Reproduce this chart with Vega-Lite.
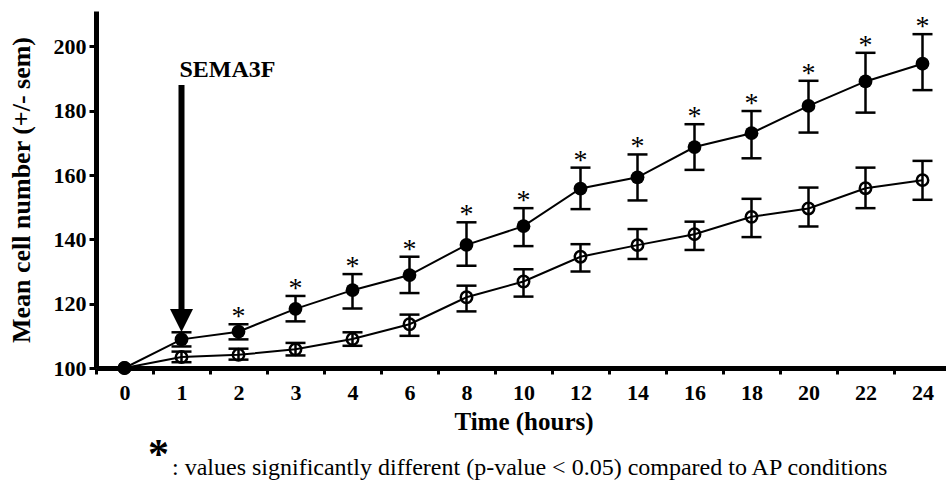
{
  "$schema": "https://vega.github.io/schema/vega-lite/v6.json",
  "autosize": "none",
  "width": 850,
  "height": 357,
  "padding": {"left": 96, "top": 11, "right": 0, "bottom": 116},
  "background": "white",
  "config": {
    "font": "Liberation Serif",
    "view": {"stroke": null},
    "axis": {
      "domainColor": "black",
      "domainWidth": 5,
      "tickColor": "black",
      "tickWidth": 3,
      "labelColor": "black",
      "titleColor": "black",
      "labelFont": "Liberation Serif",
      "titleFont": "Liberation Serif",
      "labelFontWeight": "bold",
      "titleFontWeight": "bold",
      "grid": false
    }
  },
  "title": {
    "text": "*",
    "subtitle": "\u200b\u00a0\u00a0\u00a0\u00a0: values significantly different (p-value < 0.05) compared to AP conditions",
    "orient": "bottom",
    "anchor": "start",
    "frame": "group",
    "dx": 52,
    "offset": 1,
    "font": "Liberation Serif",
    "fontSize": 42,
    "fontWeight": "bold",
    "lineHeight": 16,
    "color": "black",
    "subtitleFont": "Liberation Serif",
    "subtitleFontSize": 24,
    "subtitleFontWeight": "normal",
    "subtitleColor": "black",
    "subtitlePadding": -21
  },
  "datasets": {
    "cells": [
      {"t": 0, "g": "SEMA3F", "m": 100, "lo": 100, "hi": 100, "sig": false},
      {"t": 1, "g": "SEMA3F", "m": 108.9, "lo": 106.7, "hi": 111.1, "sig": false},
      {"t": 2, "g": "SEMA3F", "m": 111.3, "lo": 108.9, "hi": 113.6, "sig": true},
      {"t": 3, "g": "SEMA3F", "m": 118.4, "lo": 114.5, "hi": 122.4, "sig": true},
      {"t": 4, "g": "SEMA3F", "m": 124.2, "lo": 118.5, "hi": 129.2, "sig": true},
      {"t": 6, "g": "SEMA3F", "m": 128.9, "lo": 123.3, "hi": 134.6, "sig": true},
      {"t": 8, "g": "SEMA3F", "m": 138.3, "lo": 131.8, "hi": 145.3, "sig": true},
      {"t": 10, "g": "SEMA3F", "m": 144.1, "lo": 137.9, "hi": 149.7, "sig": true},
      {"t": 12, "g": "SEMA3F", "m": 155.8, "lo": 149.4, "hi": 162.3, "sig": true},
      {"t": 14, "g": "SEMA3F", "m": 159.3, "lo": 152.1, "hi": 166.4, "sig": true},
      {"t": 16, "g": "SEMA3F", "m": 168.7, "lo": 161.6, "hi": 175.8, "sig": true},
      {"t": 18, "g": "SEMA3F", "m": 173.0, "lo": 165.2, "hi": 179.9, "sig": true},
      {"t": 20, "g": "SEMA3F", "m": 181.5, "lo": 173.2, "hi": 189.3, "sig": true},
      {"t": 22, "g": "SEMA3F", "m": 189.1, "lo": 179.4, "hi": 198.0, "sig": true},
      {"t": 24, "g": "SEMA3F", "m": 194.6, "lo": 186.4, "hi": 203.8, "sig": true},
      {"t": 0, "g": "AP", "m": 100, "lo": 100, "hi": 100, "sig": false},
      {"t": 1, "g": "AP", "m": 103.4, "lo": 101.8, "hi": 105.1, "sig": false},
      {"t": 2, "g": "AP", "m": 104.1, "lo": 102.6, "hi": 106.0, "sig": false},
      {"t": 3, "g": "AP", "m": 105.8, "lo": 103.9, "hi": 107.8, "sig": false},
      {"t": 4, "g": "AP", "m": 109.0, "lo": 106.9, "hi": 111.1, "sig": false},
      {"t": 6, "g": "AP", "m": 113.6, "lo": 110.0, "hi": 116.6, "sig": false},
      {"t": 8, "g": "AP", "m": 122.0, "lo": 117.6, "hi": 125.6, "sig": false},
      {"t": 10, "g": "AP", "m": 126.9, "lo": 122.2, "hi": 130.7, "sig": false},
      {"t": 12, "g": "AP", "m": 134.6, "lo": 130.0, "hi": 138.5, "sig": false},
      {"t": 14, "g": "AP", "m": 138.2, "lo": 133.9, "hi": 143.2, "sig": false},
      {"t": 16, "g": "AP", "m": 141.6, "lo": 136.7, "hi": 145.5, "sig": false},
      {"t": 18, "g": "AP", "m": 147.0, "lo": 140.7, "hi": 152.6, "sig": false},
      {"t": 20, "g": "AP", "m": 149.6, "lo": 144.0, "hi": 156.1, "sig": false},
      {"t": 22, "g": "AP", "m": 155.9, "lo": 149.7, "hi": 162.3, "sig": false},
      {"t": 24, "g": "AP", "m": 158.4, "lo": 152.3, "hi": 164.4, "sig": false}
    ],
    "marker": [
      {"t": 1, "from": 188, "to": 118, "tip": 114.8, "label": "SEMA3F", "ly": 190.5}
    ]
  },
  "data": {"name": "cells"},
  "encoding": {
    "x": {
      "field": "t",
      "type": "ordinal",
      "sort": [0, 1, 2, 3, 4, 6, 8, 10, 12, 14, 16, 18, 20, 22, 24],
      "scale": {"type": "band", "paddingInner": 0, "paddingOuter": 0, "range": [0, 855]},
      "axis": {
        "orient": "bottom",
        "tickBand": "extent",
        "labelAngle": 0,
        "tickSize": 6,
        "labelPadding": 8,
        "labelFontSize": 22,
        "title": "Time (hours)",
        "titleFontSize": 25,
        "titlePadding": 6
      }
    }
  },
  "layer": [
    {
      "mark": {"type": "line", "color": "black", "strokeWidth": 2},
      "encoding": {
        "y": {
          "field": "m",
          "type": "quantitative",
          "scale": {"domain": [100, 211], "nice": false, "zero": false},
          "axis": {
            "values": [100, 120, 140, 160, 180, 200],
            "tickSize": 7,
            "labelPadding": 3,
            "labelFontSize": 22,
            "title": "Mean cell number (+/- sem)",
            "titleFontSize": 26,
            "titlePadding": 19
          }
        },
        "detail": {"field": "g"}
      }
    },
    {
      "transform": [{"filter": "datum.hi > datum.lo"}],
      "mark": {"type": "rule", "color": "black", "strokeWidth": 2.5},
      "encoding": {
        "y": {"field": "lo", "type": "quantitative"},
        "y2": {"field": "hi"}
      }
    },
    {
      "transform": [{"filter": "datum.hi > datum.lo"}],
      "mark": {"type": "tick", "color": "black", "size": 20, "thickness": 2.5, "opacity": 1},
      "encoding": {
        "y": {"field": "lo", "type": "quantitative"}
      }
    },
    {
      "transform": [{"filter": "datum.hi > datum.lo"}],
      "mark": {"type": "tick", "color": "black", "size": 20, "thickness": 2.5, "opacity": 1},
      "encoding": {
        "y": {"field": "hi", "type": "quantitative"}
      }
    },
    {
      "transform": [{"filter": "datum.g == 'SEMA3F'"}],
      "mark": {"type": "point", "filled": true, "color": "black", "size": 190, "opacity": 1},
      "encoding": {
        "y": {"field": "m", "type": "quantitative"}
      }
    },
    {
      "transform": [{"filter": "datum.g == 'AP'"}],
      "mark": {"type": "point", "filled": false, "color": "black", "size": 130, "strokeWidth": 2.5, "opacity": 1},
      "encoding": {
        "y": {"field": "m", "type": "quantitative"}
      }
    },
    {
      "transform": [{"filter": "datum.sig"}],
      "mark": {"type": "text", "text": "*", "font": "Liberation Serif", "fontSize": 28, "color": "black", "baseline": "alphabetic", "dy": 1},
      "encoding": {
        "y": {"field": "hi", "type": "quantitative"}
      }
    },
    {
      "data": {"name": "marker"},
      "mark": {"type": "rule", "color": "black", "strokeWidth": 6},
      "encoding": {
        "y": {"field": "from", "type": "quantitative"},
        "y2": {"field": "to"}
      }
    },
    {
      "data": {"name": "marker"},
      "mark": {"type": "point", "shape": "M-1,-1L1,-1L0,1Z", "filled": true, "color": "black", "size": 529, "opacity": 1},
      "encoding": {
        "y": {"field": "tip", "type": "quantitative"}
      }
    },
    {
      "data": {"name": "marker"},
      "mark": {"type": "text", "font": "Liberation Serif", "fontSize": 24, "fontWeight": "bold", "color": "black", "align": "left", "baseline": "alphabetic", "dx": -2},
      "encoding": {
        "y": {"field": "ly", "type": "quantitative"},
        "text": {"field": "label"}
      }
    }
  ]
}
